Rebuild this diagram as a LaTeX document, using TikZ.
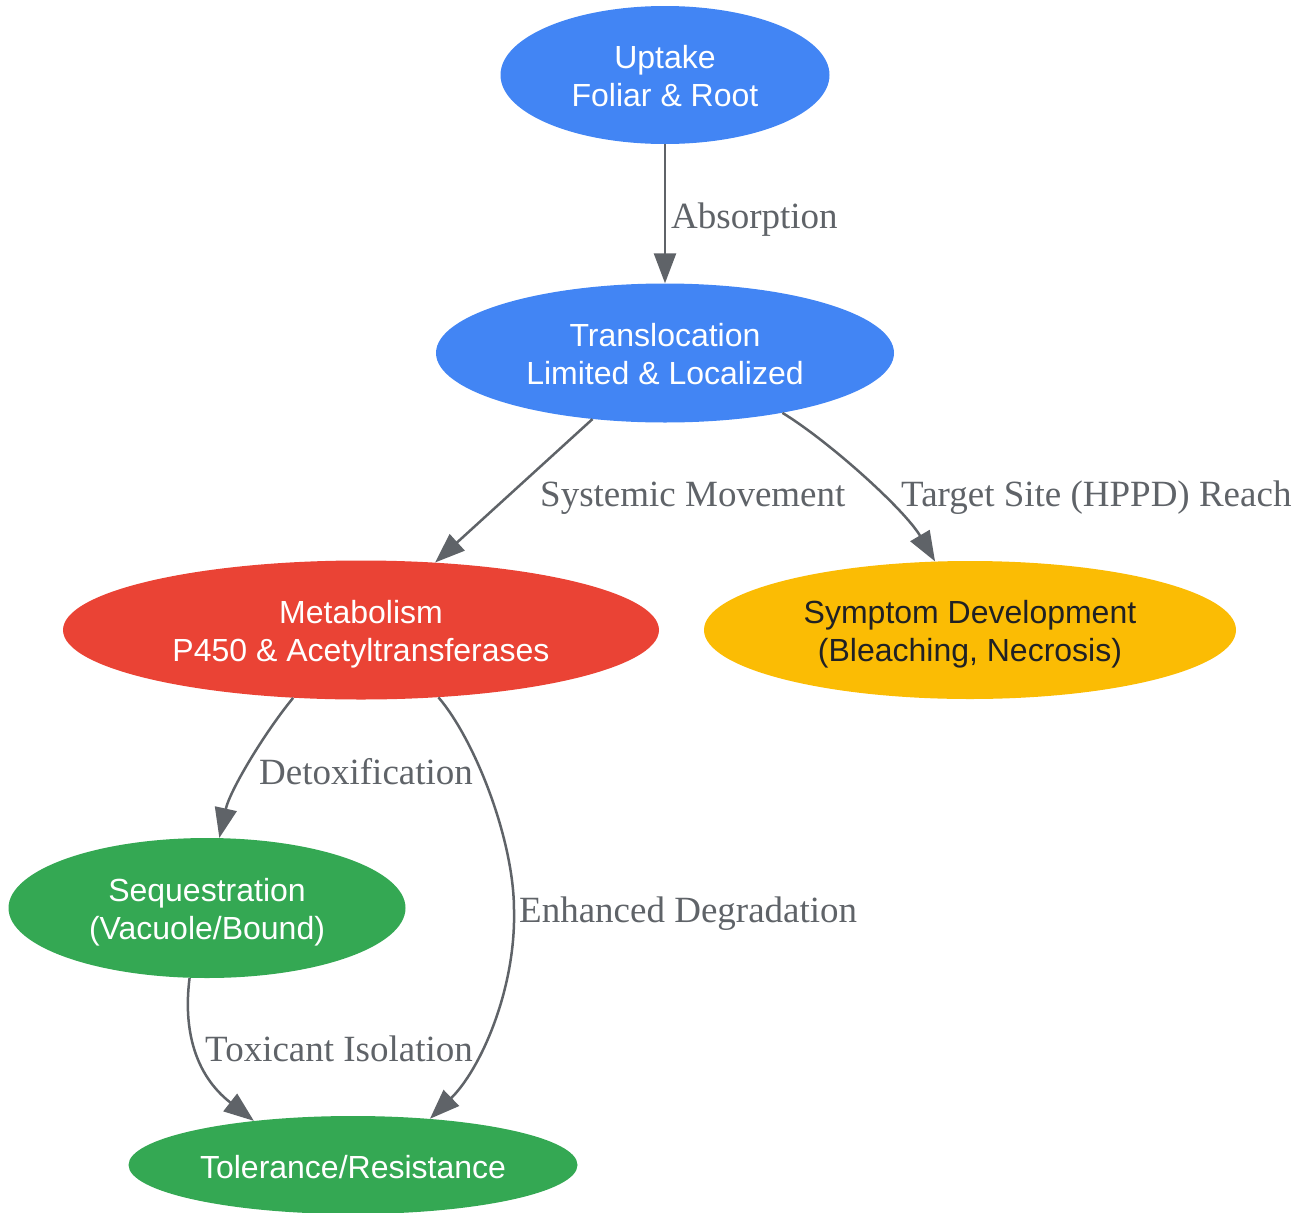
\documentclass[tikz,border=0pt]{standalone}
\usepackage{fontspec}
\setmainfont{Liberation Sans}
\newfontfamily\lblfont{Liberation Serif}
\usetikzlibrary{shapes.geometric,arrows.meta}
\definecolor{gblue}{HTML}{4285F4}
\definecolor{gred}{HTML}{EA4335}
\definecolor{gyellow}{HTML}{FBBC04}
\definecolor{ggreen}{HTML}{34A853}
\definecolor{edgecol}{HTML}{5F6368}
\definecolor{darktext}{HTML}{202124}
\newcommand\stagetext[1]{\raisebox{-5pt}[\height][\depth]{\begin{tabular}{@{}c@{}}#1\end{tabular}}}
\tikzset{
  stage/.style={ellipse, inner sep=0pt, align=center, text=white,
    font=\fontsize{32}{38}\selectfont},
  conn/.style={draw=edgecol, line width=2.5pt,
    -{Triangle[length=30pt,width=22pt]}},
  elabel/.style={anchor=base west, inner sep=0pt, text=edgecol,
    font=\lblfont\fontsize{37}{44}\selectfont},
}
\begin{document}
\begin{tikzpicture}[x=1pt,y=-1pt]
\useasboundingbox (0,0) rectangle (1302,1213);
\node[stage, fill=gblue, minimum width=329pt, minimum height=138pt] (up) at (665,75) {\stagetext{Uptake\\Foliar \& Root}};
\node[stage, fill=gblue, minimum width=458pt, minimum height=139pt] (trans) at (665,353) {\stagetext{Translocation\\Limited \& Localized}};
\node[stage, fill=gred, minimum width=596pt, minimum height=139pt] (meta) at (361,630) {\stagetext{Metabolism\\P450 \& Acetyltransferases}};
\node[stage, fill=gyellow, text=darktext, minimum width=532pt, minimum height=138pt] (symp) at (970,630) {\stagetext{Symptom Development\\(Bleaching, Necrosis)}};
\node[stage, fill=ggreen, minimum width=397pt, minimum height=140pt] (seq) at (207,908) {\stagetext{Sequestration\\(Vacuole/Bound)}};
\node[stage, fill=ggreen, minimum width=449pt, minimum height=98pt] (tol) at (353,1165) {\raisebox{-2pt}[\height][\depth]{Tolerance/Resistance}};

\draw[conn] (up) -- (trans);
\draw[conn] (trans) -- (meta);
\draw[conn] (trans.-27) .. controls (830,442) and (905,510) .. (symp.117);
\draw[conn] (meta.-135) .. controls (265,732) and (230,790) .. (seq.80);
\draw[conn] (meta.-41) .. controls (475,740) and (514,840) .. (514,910)
  .. controls (516,990) and (480,1070) .. (tol.31);
\draw[conn] (seq.-104) .. controls (183,1030) and (195,1075) .. (tol.156);

\node[elabel] (l1) at (671,228) {Absorption};
\node[elabel] (l2) at (540,506) {Systemic Movement};
\node[elabel] (l3) at (901,506) {Target Site (HPPD) Reach};
\node[elabel] (l4) at (259,784) {Detoxification};
\node[elabel] (l5) at (519,922) {Enhanced Degradation};
\node[elabel] (l6) at (205,1061) {Toxicant Isolation};
\end{tikzpicture}
\end{document}
